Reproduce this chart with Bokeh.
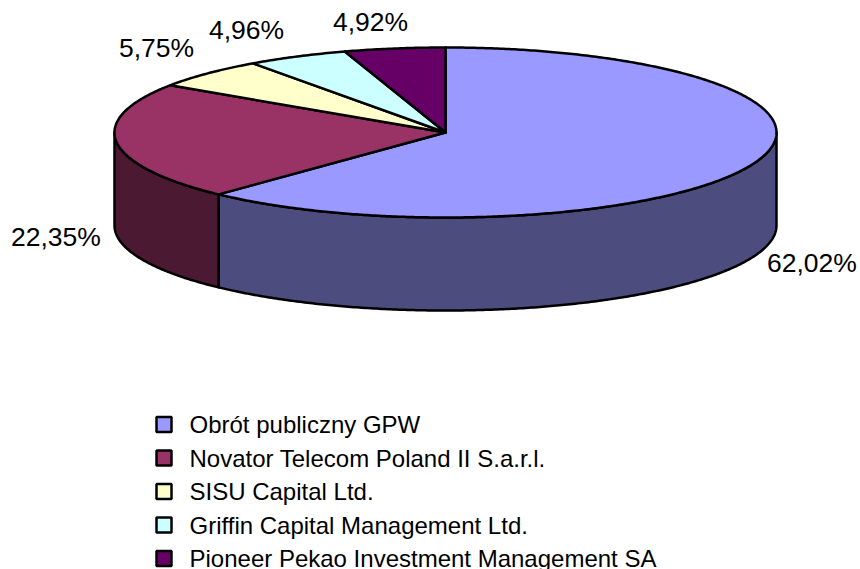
import numpy as np
from bokeh.plotting import figure
from bokeh.models import Range1d
from bokeh.core.properties import value
from bokeh.embed import file_html
from bokeh.resources import INLINE

categories = ["Obrót publiczny GPW", "Novator Telecom Poland II S.a.r.l.", "SISU Capital Ltd.",
              "Griffin Capital Management Ltd.", "Pioneer Pekao Investment Management SA"]
shares = [62.02, 22.35, 5.75, 4.96, 4.92]
share_labels = ["62,02%", "22,35%", "5,75%", "4,96%", "4,92%"]
top_colors = ["#9999FF", "#993366", "#FFFFCC", "#CCFFFF", "#660066"]
side_colors = ["#4C4C7F", "#4C1933", "#7F7F66", "#667F7F", "#330033"]

# layout, in page pixels
CX, CY, RX, RY, DEPTH = 445, 132, 331, 85, 93
LABEL_X = [766.5, 10.5, 118.5, 208.5, 332.5]
LABEL_MID = [262, 236, 47, 29, 21]
LEG_MARK_X, LEG_TEXT_X, LEG_Y0, LEG_STEP = 163.5, 189, 424, 33.5


def arc(t0, t1, dy=0):
    t = np.radians(np.linspace(t0, t1, max(int(abs(t1 - t0) * 2), 2)))
    return CX + RX * np.sin(t), CY + dy - RY * np.cos(t)


p = figure(width=860, height=569, output_backend="svg", toolbar_location=None,
           x_range=Range1d(0, 860), y_range=Range1d(569, 0),
           min_border=0, outline_line_color=None, background_fill_color="white",
           border_fill_color="white")
p.axis.visible = False
p.grid.visible = False

edges = np.concatenate([[0], np.cumsum(shares)]) * 3.6
edges[-1] = 360

# front walls: the part of each slice between 90 and 270 degrees
for i in range(len(shares)):
    a, b = max(edges[i], 90), min(edges[i + 1], 270)
    if b > a:
        x0, y0 = arc(a, b)
        x1, y1 = arc(b, a, DEPTH)
        p.patch(np.r_[x0, x1], np.r_[y0, y1], fill_color=side_colors[i],
                line_color="black", line_width=2.5, line_join="round")

# top faces
for i in range(len(shares)):
    x0, y0 = arc(edges[i], edges[i + 1])
    p.patch(np.r_[CX, x0], np.r_[CY, y0], fill_color=top_colors[i],
            line_color="black", line_width=2.5, line_join="round")

p.text(LABEL_X, LABEL_MID, text=share_labels, text_font=value("Liberation Sans"),
       text_font_size=value("26.5px"), text_color="black",
       text_align="left", text_baseline="middle")

leg_y = LEG_Y0 + LEG_STEP * np.arange(len(categories))
p.scatter([LEG_MARK_X] * len(categories), leg_y, marker="square", size=15,
          fill_color=top_colors, line_color="black", line_width=2.5)
p.text([LEG_TEXT_X] * len(categories), leg_y, text=categories,
       text_font=value("Liberation Sans"), text_font_size=value("24px"), text_color="black",
       text_align="left", text_baseline="middle")

open("out.html", "w").write(file_html(p, INLINE))
